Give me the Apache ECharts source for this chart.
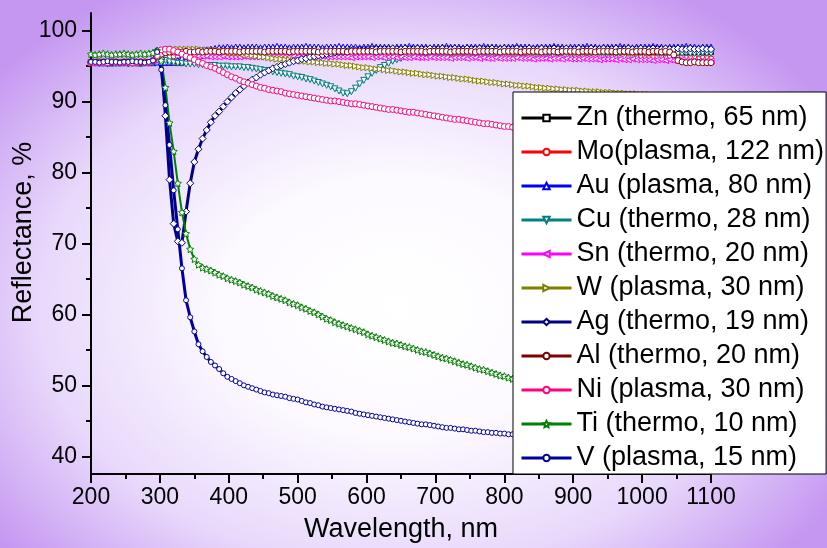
<!DOCTYPE html>
<html>
<head>
<meta charset="utf-8">
<script src="https://cdn.jsdelivr.net/npm/echarts@6/dist/echarts.min.js"></script>
<style>
html,body{margin:0;padding:0;}
#chart{width:827px;height:548px;background:radial-gradient(ellipse 62% 68% at 48% 56%, #ffffff 0%, #fcf9ff 35%, #e8d8fb 70%, #c597f1 100%);}
</style>
</head>
<body>
<div id="chart"></div>
<script>
// Wavelength grid (nm)
const wavelength = [
200,206,212,218,224,230,236,242,248,254,
260,266,272,278,284,290,296,302,308,314,
320,326,332,338,344,350,356,362,368,374,
380,386,392,398,404,410,416,422,428,434,
440,446,452,458,464,470,476,482,488,494,
500,506,512,518,524,530,536,542,548,554,
560,566,572,578,584,590,596,602,608,614,
620,626,632,638,644,650,656,662,668,674,
680,686,692,698,704,710,716,722,728,734,
740,746,752,758,764,770,776,782,788,794,
800,806,812,818,824,830,836,842,848,854,
860,866,872,878,884,890,896,902,908,914,
920,926,932,938,944,950,956,962,968,974,
980,986,992,998,1004,1010,1016,1022,1028,1034,
1040,1046,1052,1058,1064,1070,1076,1082,1088,1094,
1100];

const yTickLabels = [40,50,60,70,80,90,100];
const yMinorTicks = [45,55,65,75,85,95];

const zn = [
95.5,95.5,95.6,95.5,95.5,95.4,95.5,95.5,95.6,95.5,
95.5,95.5,95.4,95.5,95.5,95.5,95.6,95.6,95.5,95.5,
95.5,95.5,95.5,95.6,95.7,96.0,96.3,96.5,96.7,96.8,
96.9,96.9,97.0,97.0,97.0,97.0,97.0,97.1,97.0,97.0,
97.0,97.0,97.1,97.0,97.0,97.0,97.1,97.0,97.0,97.0,
97.0,97.1,97.0,97.0,97.0,97.1,97.0,97.0,97.0,97.0,
97.1,97.0,97.0,97.0,97.1,97.0,97.0,97.0,97.1,97.0,
97.0,97.0,97.1,97.0,97.0,97.0,97.1,97.0,97.0,97.0,
97.1,97.0,97.0,97.0,97.0,97.1,97.0,97.0,97.0,97.1,
97.0,97.0,97.0,97.1,97.0,97.0,97.0,97.0,97.1,97.0,
97.0,97.0,97.1,97.0,97.0,97.0,97.0,97.1,97.0,97.0,
97.0,97.1,97.0,97.0,97.0,97.0,97.1,97.0,97.0,97.0,
97.1,97.0,97.0,97.0,97.0,97.1,97.0,97.0,97.0,97.0,
97.1,97.0,97.0,97.0,97.1,97.0,97.0,97.0,97.0,97.1,
97.0,97.0,97.0,97.1,97.0,97.0,97.0,97.0,97.1,97.0,
97.0];

const mo = [
95.4,95.5,95.5,95.4,95.5,95.5,95.5,95.4,95.5,95.5,
95.5,95.4,95.5,95.5,95.5,95.5,95.7,96.0,96.2,96.3,
96.4,96.4,96.5,96.5,96.5,96.5,96.6,96.5,96.5,96.5,
96.5,96.6,96.5,96.5,96.5,96.6,96.5,96.5,96.5,96.6,
96.5,96.5,96.6,96.5,96.5,96.5,96.6,96.5,96.5,96.5,
96.6,96.5,96.5,96.5,96.6,96.5,96.5,96.5,96.6,96.5,
96.5,96.5,96.6,96.5,96.5,96.5,96.5,96.6,96.5,96.5,
96.5,96.6,96.5,96.5,96.5,96.5,96.6,96.5,96.5,96.5,
96.5,96.5,96.6,96.5,96.5,96.5,96.5,96.5,96.6,96.5,
96.5,96.5,96.5,96.6,96.5,96.5,96.5,96.5,96.5,96.5,
96.6,96.5,96.5,96.5,96.4,96.5,96.5,96.5,96.4,96.5,
96.5,96.4,96.5,96.5,96.4,96.5,96.4,96.4,96.5,96.4,
96.4,96.4,96.5,96.4,96.4,96.4,96.3,96.4,96.4,96.4,
96.3,96.4,96.3,96.3,96.4,96.3,96.3,96.3,96.3,96.2,
96.3,96.2,96.2,96.3,96.2,96.2,96.2,96.1,96.2,96.2,
96.1];

const au = [
95.5,95.6,95.5,95.5,95.5,95.6,95.5,95.5,95.5,95.6,
95.5,95.5,95.5,95.6,95.5,95.5,95.6,95.6,95.6,95.6,
95.6,95.8,96.1,96.4,96.7,96.9,97.1,97.2,97.3,97.4,
97.5,97.6,97.6,97.7,97.6,97.7,97.7,97.6,97.7,97.7,
97.7,97.6,97.7,97.7,97.7,97.8,97.7,97.7,97.6,97.7,
97.7,97.7,97.8,97.7,97.7,97.7,97.6,97.7,97.7,97.7,
97.8,97.7,97.7,97.7,97.7,97.6,97.7,97.7,97.8,97.7,
97.7,97.7,97.7,97.6,97.7,97.7,97.7,97.8,97.7,97.7,
97.7,97.7,97.6,97.7,97.7,97.7,97.8,97.7,97.7,97.7,
97.6,97.7,97.7,97.7,97.7,97.8,97.7,97.7,97.7,97.6,
97.7,97.7,97.7,97.8,97.7,97.7,97.7,97.6,97.7,97.7,
97.7,97.7,97.8,97.7,97.7,97.6,97.7,97.7,97.7,97.7,
97.8,97.7,97.7,97.6,97.7,97.7,97.7,97.7,97.8,97.7,
97.7,97.6,97.7,97.7,97.7,97.7,97.8,97.7,97.7,97.6,
97.7,97.7,97.7,97.7,97.8,97.7,97.7,97.6,97.7,97.7,
97.7];

const cu = [
95.5,95.5,95.4,95.5,95.5,95.5,95.4,95.5,95.5,95.5,
95.4,95.5,95.5,95.5,95.5,95.5,95.8,96.0,95.8,95.6,
95.5,95.4,95.4,95.3,95.3,95.3,95.2,95.2,95.1,95.1,
95.1,95.0,95.0,95.0,94.9,94.9,94.9,94.8,94.8,94.7,
94.6,94.5,94.4,94.3,94.2,94.1,94.0,93.9,93.8,93.6,
93.5,93.4,93.2,93.1,92.9,92.7,92.5,92.3,92.1,91.8,
91.5,91.2,91.1,91.4,91.9,92.5,93.0,93.5,94.0,94.4,
94.8,95.1,95.4,95.7,95.9,96.1,96.3,96.5,96.6,96.7,
96.8,96.8,96.8,96.9,96.8,96.8,96.9,96.8,96.8,96.9,
96.8,96.9,96.8,96.8,96.9,96.8,96.8,96.9,96.8,96.8,
96.9,96.8,96.8,96.9,96.8,96.8,96.9,96.8,96.8,96.9,
96.8,96.8,96.9,96.8,96.8,96.9,96.8,96.8,96.8,96.9,
96.8,96.8,96.9,96.8,96.8,96.8,96.9,96.8,96.8,96.9,
96.8,96.8,96.8,96.9,96.8,96.8,96.9,96.8,96.8,96.8,
96.9,96.8,96.8,96.8,96.9,96.8,96.8,96.8,96.9,96.8,
96.8];

const sn = [
95.5,95.5,95.5,95.6,95.5,95.5,95.5,95.5,95.6,95.5,
95.5,95.5,95.5,95.5,95.6,95.7,96.3,96.8,97.0,97.0,
96.9,96.8,96.7,96.6,96.5,96.5,96.4,96.4,96.4,96.3,
96.3,96.3,96.4,96.3,96.3,96.3,96.3,96.4,96.3,96.3,
96.3,96.3,96.3,96.4,96.3,96.3,96.3,96.3,96.3,96.4,
96.3,96.3,96.3,96.3,96.3,96.3,96.4,96.3,96.3,96.3,
96.3,96.3,96.3,96.2,96.3,96.3,96.3,96.3,96.2,96.3,
96.3,96.2,96.3,96.3,96.2,96.3,96.2,96.2,96.3,96.2,
96.2,96.2,96.3,96.2,96.2,96.2,96.2,96.1,96.2,96.2,
96.2,96.1,96.2,96.2,96.1,96.2,96.1,96.1,96.2,96.1,
96.1,96.1,96.1,96.2,96.1,96.1,96.1,96.0,96.1,96.1,
96.1,96.0,96.1,96.1,96.0,96.1,96.0,96.0,96.0,96.1,
96.0,96.0,96.0,95.9,96.0,96.0,96.0,95.9,96.0,95.9,
95.9,96.0,95.9,95.9,95.9,95.9,95.8,95.9,95.9,95.8,
95.9,95.8,95.8,95.9,95.8,95.8,95.8,95.7,95.8,95.8,
95.7];

const w = [
95.5,95.5,95.5,95.5,95.6,95.5,95.5,95.5,95.5,95.5,
95.6,95.5,95.5,95.5,95.5,95.6,96.2,96.9,97.2,97.3,
97.4,97.4,97.4,97.4,97.4,97.4,97.4,97.3,97.3,97.3,
97.2,97.2,97.1,97.0,96.9,96.9,96.8,96.7,96.6,96.5,
96.4,96.3,96.3,96.2,96.1,96.0,96.0,95.9,95.9,95.8,
95.8,95.7,95.7,95.6,95.6,95.5,95.5,95.4,95.4,95.3,
95.3,95.2,95.1,95.1,95.0,94.9,94.8,94.8,94.7,94.6,
94.6,94.5,94.4,94.4,94.3,94.2,94.2,94.1,94.0,94.0,
93.9,93.8,93.8,93.7,93.6,93.6,93.5,93.4,93.4,93.3,
93.2,93.2,93.1,93.0,92.9,92.9,92.8,92.7,92.7,92.6,
92.5,92.5,92.4,92.3,92.3,92.2,92.2,92.1,92.0,92.0,
91.9,91.9,91.8,91.8,91.7,91.7,91.6,91.6,91.6,91.5,
91.5,91.4,91.4,91.4,91.3,91.3,91.3,91.2,91.2,91.2,
91.1,91.1,91.1,91.0,91.0,91.0,90.9,90.9,90.9,90.8,
90.8,90.8,90.7,90.7,90.7,90.6,90.6,90.6,90.5,90.5,
90.5];

const ag = [
95.5,95.5,95.5,95.5,95.4,95.5,95.5,95.5,95.5,95.4,
95.5,95.5,95.5,95.5,95.5,95.8,97.2,96.0,88.0,79.0,
72.8,70.3,70.1,74.5,78.5,81.5,83.3,84.8,86.0,87.1,
88.0,88.6,89.3,90.0,90.6,91.2,91.7,92.2,92.7,93.1,
93.4,93.8,94.1,94.4,94.7,94.9,95.1,95.3,95.5,95.7,
95.8,96.0,96.1,96.3,96.4,96.5,96.6,96.7,96.8,96.9,
97.0,97.0,97.1,97.2,97.2,97.3,97.3,97.3,97.4,97.4,
97.4,97.4,97.4,97.5,97.4,97.4,97.5,97.4,97.4,97.5,
97.4,97.4,97.5,97.4,97.4,97.5,97.4,97.4,97.5,97.4,
97.4,97.5,97.4,97.4,97.5,97.4,97.4,97.5,97.4,97.4,
97.5,97.4,97.4,97.5,97.4,97.4,97.5,97.4,97.4,97.5,
97.4,97.4,97.5,97.4,97.4,97.5,97.4,97.4,97.5,97.4,
97.4,97.5,97.4,97.4,97.5,97.4,97.4,97.5,97.4,97.4,
97.5,97.4,97.4,97.5,97.4,97.4,97.5,97.4,97.4,97.5,
97.4,97.4,97.5,97.4,97.4,97.5,97.4,97.4,97.5,97.4,
97.4];

const al = [
95.6,95.5,95.6,95.6,95.5,95.6,95.6,95.5,95.6,95.6,
95.5,95.6,95.6,95.6,95.5,95.8,96.3,96.7,96.9,97.0,
97.0,97.0,97.0,97.1,97.0,97.0,97.1,97.0,97.1,97.1,
97.1,97.0,97.1,97.1,97.1,97.1,97.0,97.1,97.1,97.1,
97.1,97.1,97.0,97.1,97.1,97.1,97.1,97.1,97.0,97.1,
97.1,97.1,97.1,97.1,97.1,97.0,97.1,97.1,97.1,97.1,
97.1,97.1,97.0,97.1,97.1,97.1,97.1,97.1,97.1,97.0,
97.1,97.1,97.1,97.1,97.1,97.0,97.1,97.1,97.1,97.1,
97.1,97.0,97.1,97.1,97.1,97.1,97.1,97.0,97.1,97.1,
97.1,97.1,97.1,97.0,97.1,97.1,97.1,97.1,97.1,97.0,
97.1,97.1,97.1,97.1,97.0,97.1,97.1,97.1,97.1,97.0,
97.1,97.1,97.1,97.0,97.1,97.1,97.1,97.1,97.0,97.1,
97.1,97.1,97.0,97.1,97.1,97.1,97.1,97.0,97.1,97.1,
97.1,97.0,97.1,97.1,97.1,97.0,97.1,97.1,97.0,97.1,
97.0,96.6,95.8,95.6,95.5,95.5,95.6,95.5,95.5,95.5,
95.5];

const ni = [
95.5,95.5,95.5,95.5,95.5,95.6,95.5,95.5,95.5,95.5,
95.5,95.5,95.6,95.5,95.5,95.8,96.5,97.3,97.4,97.4,
97.2,97.0,96.7,96.4,96.2,95.9,95.6,95.4,95.1,94.9,
94.7,94.4,94.1,93.8,93.5,93.3,93.0,92.8,92.6,92.4,
92.2,92.0,91.9,91.7,91.6,91.5,91.4,91.2,91.1,91.0,
90.9,90.8,90.7,90.6,90.5,90.4,90.3,90.2,90.1,90.1,
90.0,89.9,89.8,89.7,89.7,89.6,89.5,89.4,89.3,89.2,
89.1,89.0,88.9,88.9,88.8,88.7,88.6,88.5,88.5,88.4,
88.3,88.2,88.1,88.0,87.9,87.8,87.7,87.6,87.5,87.5,
87.4,87.3,87.2,87.1,87.0,86.9,86.9,86.8,86.7,86.6,
86.5,86.5,86.4,86.3,86.2,86.2,86.1,86.0,86.0,85.9,
85.8,85.8,85.7,85.7,85.6,85.6,85.5,85.5,85.4,85.4,
85.3,85.3,85.2,85.2,85.1,85.1,85.0,85.0,84.9,84.9,
84.9,84.8,84.8,84.7,84.7,84.7,84.6,84.6,84.5,84.5,
84.5,84.4,84.4,84.3,84.3,84.3,84.2,84.2,84.1,84.1,
84.1];

const ti = [
96.7,96.6,96.7,96.8,96.7,96.6,96.7,96.7,96.8,96.7,
96.6,96.7,96.8,96.7,96.8,96.9,97.2,95.8,92.0,87.0,
83.0,78.5,74.4,71.4,69.2,67.8,67.0,66.6,66.4,66.2,
65.9,65.6,65.4,65.1,64.9,64.7,64.5,64.2,64.0,63.8,
63.5,63.3,63.1,62.9,62.6,62.4,62.2,62.0,61.7,61.5,
61.3,61.0,60.8,60.5,60.3,60.0,59.7,59.4,59.2,58.9,
58.7,58.5,58.3,58.1,57.9,57.7,57.5,57.2,57.0,56.8,
56.6,56.4,56.2,56.0,55.9,55.7,55.5,55.4,55.2,55.0,
54.8,54.7,54.5,54.3,54.1,53.9,53.8,53.6,53.4,53.2,
53.0,52.9,52.7,52.5,52.3,52.2,52.0,51.8,51.6,51.4,
51.3,51.1,50.9,50.8,50.6,50.4,50.2,50.1,49.9,49.7,
49.5,49.4,49.2,49.0,48.9,48.7,48.5,48.4,48.2,48.0,
47.9,47.7,47.5,47.4,47.2,47.0,46.9,46.7,46.6,46.4,
46.3,46.1,46.0,45.8,45.7,45.5,45.4,45.2,45.1,45.0,
44.8,44.7,44.6,44.4,44.3,44.2,44.1,43.9,43.8,43.7,
43.6];

const v = [
95.6,95.6,95.5,95.6,95.7,95.6,95.6,95.5,95.6,95.6,
95.7,95.6,95.6,95.5,95.6,95.8,97.0,94.5,89.5,83.9,
77.5,72.0,66.5,62.0,59.6,57.6,55.8,54.8,54.0,53.3,
52.8,52.3,51.7,51.2,50.9,50.6,50.3,50.0,49.8,49.6,
49.4,49.2,49.0,48.9,48.7,48.6,48.5,48.4,48.2,48.1,
48.0,47.8,47.6,47.5,47.3,47.2,47.0,46.9,46.8,46.7,
46.6,46.5,46.4,46.3,46.1,46.0,45.9,45.8,45.7,45.6,
45.5,45.4,45.3,45.2,45.1,45.0,44.9,44.8,44.7,44.6,
44.5,44.5,44.4,44.3,44.2,44.1,44.0,44.0,43.9,43.8,
43.8,43.7,43.6,43.6,43.5,43.4,43.4,43.3,43.3,43.2,
43.2,43.1,43.1,43.0,43.0,42.9,42.9,42.8,42.8,42.7,
42.7,42.7,42.6,42.6,42.5,42.5,42.5,42.4,42.4,42.4,
42.3,42.3,42.3,42.2,42.2,42.2,42.1,42.1,42.1,42.0,
42.0,42.0,41.9,41.9,41.9,41.8,41.8,41.8,41.7,41.7,
41.7,41.6,41.6,41.6,41.5,41.5,41.5,41.4,41.4,41.4,
41.3];

const names = [
  'Zn (thermo, 65 nm)','Mo(plasma, 122 nm)','Au (plasma, 80 nm)','Cu (thermo, 28 nm)',
  'Sn (thermo, 20 nm)','W (plasma, 30 nm)','Ag (thermo, 19 nm)','Al (thermo, 20 nm)',
  'Ni (plasma, 30 nm)','Ti (thermo, 10 nm)','V (plasma, 15 nm)'];
const valueSets = [zn, mo, au, cu, sn, w, ag, al, ni, ti, v];

const STAR = 'path://M0,-10L2.9,-4L9.5,-3.1L4.7,1.5L5.9,8.1L0,5L-5.9,8.1L-4.7,1.5L-9.5,-3.1L-2.9,-4Z';
const styles = [
  {color:'#000000', symbol:'rect', rot:0, size:5, lw:2},
  {color:'#ff0000', symbol:'circle', rot:0, size:5, lw:2},
  {color:'#0000ff', symbol:'triangle', rot:0, size:6, lw:2},
  {color:'#008080', symbol:'triangle', rot:180, size:6, lw:2},
  {color:'#ff00ff', symbol:'triangle', rot:90, size:6, lw:2},
  {color:'#808000', symbol:'triangle', rot:-90, size:6, lw:2},
  {color:'#000080', symbol:'diamond', rot:0, size:7, lw:3},
  {color:'#800000', symbol:'circle', rot:0, size:6, lw:2},
  {color:'#ff0080', symbol:'circle', rot:0, size:6, lw:2},
  {color:'#008000', symbol:STAR, rot:0, size:7, lw:2},
  {color:'#0000a0', symbol:'circle', rot:0, size:5, lw:3}
];

const FONT = '"Liberation Sans", Arial, sans-serif';

const series = valueSets.map((vals, k) => ({
  name: names[k],
  type: 'line',
  data: wavelength.map((x, i) => [x, vals[i]]),
  symbol: styles[k].symbol,
  symbolSize: styles[k].size,
  symbolRotate: styles[k].rot,
  showSymbol: true,
  color: styles[k].color,
  lineStyle: {color: styles[k].color, width: styles[k].lw},
  itemStyle: {color: '#ffffff', borderColor: styles[k].color, borderWidth: 1},
  emphasis: {disabled: true},
  animation: false,
  clip: true
}));

const chart = echarts.init(document.getElementById('chart'), null, {renderer: 'canvas'});
chart.setOption({
  backgroundColor: 'transparent',
  animation: false,
  textStyle: {fontFamily: FONT},
  grid: {left: 91, right: 116, top: 13, bottom: 74, containLabel: false, outerBoundsMode: 'none'},
  xAxis: {
    type: 'value', min: 200, max: 1100, interval: 100,
    name: 'Wavelength, nm', nameLocation: 'middle', nameGap: 42, nameMoveOverlap: false,
    nameTextStyle: {fontSize: 27, color: '#000', fontFamily: FONT},
    axisLine: {show: true, lineStyle: {color: '#000', width: 2}},
    axisTick: {show: true, length: 9, lineStyle: {color: '#000', width: 2}},
    minorTick: {show: true, splitNumber: 2, length: 5, lineStyle: {color: '#000', width: 2}},
    axisLabel: {fontSize: 23, color: '#000', margin: 12, fontFamily: FONT, formatter: (val) => String(val)},
    splitLine: {show: false}, minorSplitLine: {show: false}
  },
  yAxis: [{
    type: 'value', min: 37.5, max: 102.5,
    name: 'Reflectance, %', nameLocation: 'middle', nameGap: 54, nameMoveOverlap: false,
    nameTextStyle: {fontSize: 27, color: '#000', fontFamily: FONT, padding: [0, 0, 0, 22]},
    axisLine: {show: true, lineStyle: {color: '#000', width: 2}},
    axisTick: {show: true, length: 9, customValues: yTickLabels, lineStyle: {color: '#000', width: 2}},
    axisLabel: {fontSize: 23, color: '#000', margin: 14, customValues: yTickLabels, fontFamily: FONT},
    splitLine: {show: false}
  }, {
    type: 'value', min: 37.5, max: 102.5, position: 'left', offset: 0,
    axisLine: {show: false},
    axisTick: {show: true, length: 5, customValues: yMinorTicks, lineStyle: {color: '#000', width: 2}},
    axisLabel: {show: false},
    splitLine: {show: false}
  }],
  legend: {
    orient: 'vertical', left: 513, top: 92,
    padding: [11, 2, 1, 7],
    itemGap: 4, itemWidth: 50, itemHeight: 8,
    backgroundColor: '#ffffff', borderColor: '#000', borderWidth: 1,
    lineStyle: {width: 3},
    textStyle: {fontSize: 27, lineHeight: 30, color: '#000', fontFamily: FONT},
    selectedMode: false,
    data: names
  },
  series: series
});
</script>
</body>
</html>
